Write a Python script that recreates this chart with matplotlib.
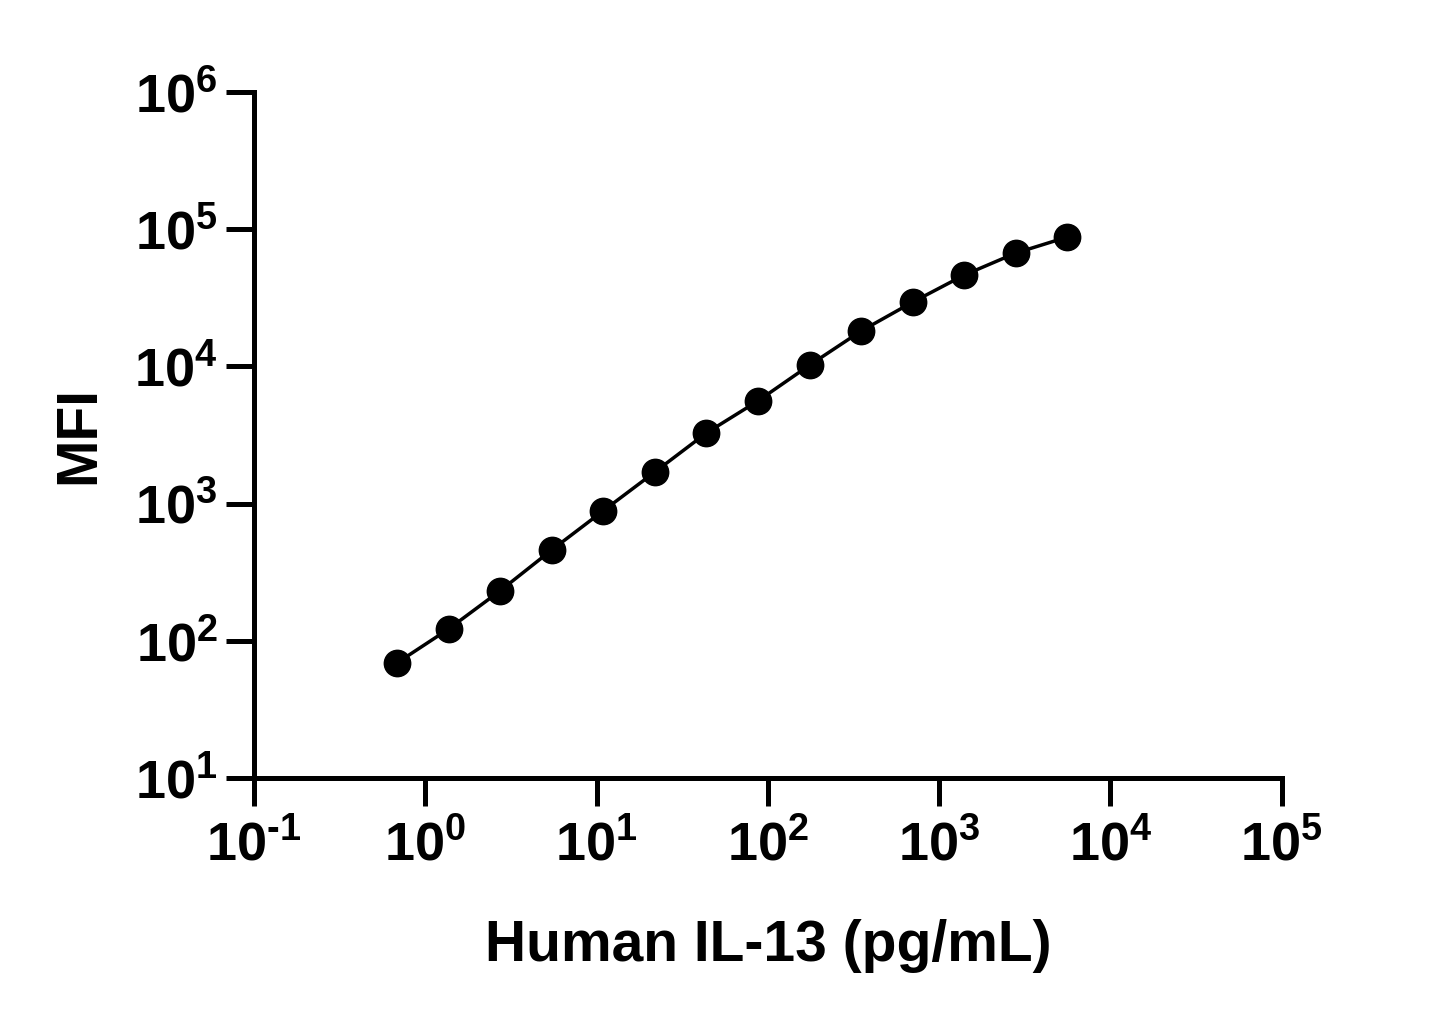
import numpy as np
import matplotlib.pyplot as plt
from matplotlib.ticker import FuncFormatter

plt.rcParams['font.family'] = 'Liberation Sans'
plt.rcParams['font.weight'] = 'bold'
plt.rcParams['mathtext.fontset'] = 'custom'
plt.rcParams['mathtext.rm'] = 'Liberation Sans:bold'
plt.rcParams['mathtext.bf'] = 'Liberation Sans:bold'
plt.rcParams['mathtext.default'] = 'bf'

# IL-13 standard curve, 2-fold dilution series
conc = np.array([0.684, 1.37, 2.73, 5.47, 10.9, 21.9, 43.75, 87.5,
                 175, 350, 700, 1400, 2800, 5600])
mfi = np.array([69, 122, 231, 459, 883, 1700, 3270, 5600,
                10200, 18100, 29400, 46300, 67000, 87700])

x_ticks = [1e-1, 1e0, 1e1, 1e2, 1e3, 1e4, 1e5]
y_ticks = [1e1, 1e2, 1e3, 1e4, 1e5, 1e6]

fig = plt.figure(figsize=(14.45, 10.27), dpi=100)
ax = fig.add_axes([0.1758, 0.2425, 0.887 - 0.1758, 0.9104 - 0.2425])

ax.plot(conc, mfi, color='black', linewidth=2.5, zorder=2)
ax.plot(conc, mfi, 'o', color='black', markersize=19, zorder=3)

ax.set_xscale('log')
ax.set_yscale('log')
ax.set_xlim(1e-1, 1e5)
ax.set_ylim(1e1, 1e6)
ax.set_xticks(x_ticks)
ax.set_yticks(y_ticks)
ax.minorticks_off()


def pow10(v, pos):
    e = int(round(np.log10(v)))
    if e < 0:
        return r'$10^{\text{-}%d}$' % abs(e)
    return r'$10^{%d}$' % e


fmt = FuncFormatter(pow10)
ax.xaxis.set_major_formatter(fmt)
ax.yaxis.set_major_formatter(fmt)

for s in ['top', 'right']:
    ax.spines[s].set_visible(False)
for s in ['left', 'bottom']:
    ax.spines[s].set_linewidth(3.6)

ax.tick_params(axis='both', direction='out', length=20, width=3.6,
               labelsize=39, colors='black')
ax.tick_params(axis='x', pad=10)
ax.tick_params(axis='y', pad=6)

ax.set_xlabel('Human IL-13 (pg/mL)', fontsize=41, fontweight='bold', labelpad=34)
ax.set_ylabel('MFI', fontsize=41, fontweight='bold', labelpad=20)

fig.savefig('out.png', dpi=100)
